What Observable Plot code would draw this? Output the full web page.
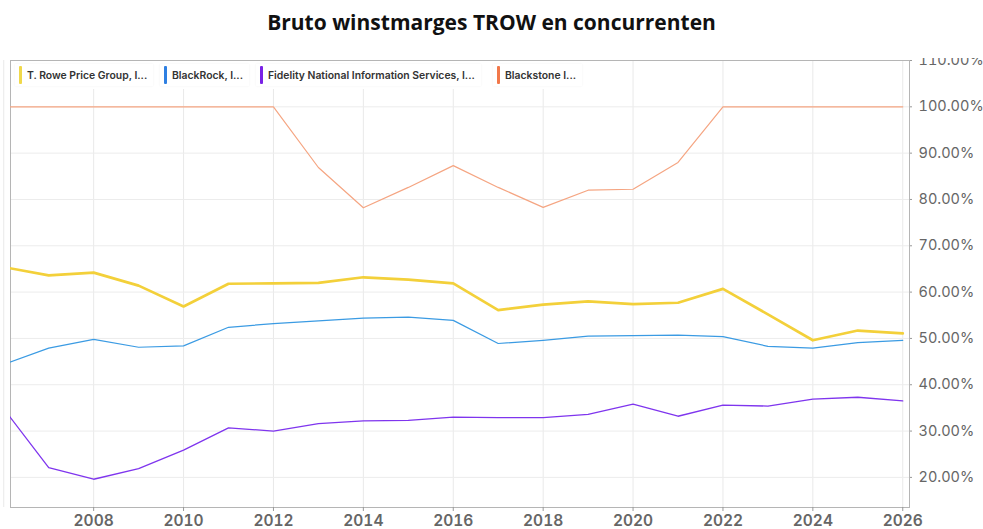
<!DOCTYPE html>
<html><head><meta charset="utf-8">
<script src="https://cdn.jsdelivr.net/npm/d3@7"></script>
<script src="https://cdn.jsdelivr.net/npm/@observablehq/plot@0.6"></script>
<style>
body{margin:0;background:#fff;}
#wrap{position:relative;width:983px;height:529px;overflow:hidden;background:#fff;}
#title{height:58px;text-align:center;font-family:"Open Sans",sans-serif;font-weight:700;font-size:21px;line-height:30px;padding-top:7px;box-sizing:border-box;color:#111;}
#legend{position:absolute;left:12px;top:61px;width:575px;height:28px;background:#fff;}
.item{position:absolute;top:3px;height:22px;display:flex;align-items:center;font-family:Inter,"Noto Sans",sans-serif;font-weight:600;font-size:10.4px;color:#333;white-space:nowrap;background:#fff;box-shadow:0 0 2px rgba(0,0,0,0.06);padding-right:6px;}
.bar{width:3px;height:18px;border-radius:1px;margin:0 5px 0 4px;}
</style></head>
<body><div id="wrap"><div id="title"></div><div id="chart"></div><div id="legend"></div></div>
<script>
const title = "Bruto winstmarges TROW en concurrenten";
const years = [2006,2007,2008,2009,2010,2011,2012,2013,2014,2015,2016,2017,2018,2019,2020,2021,2022,2023,2024,2025,2026];
const seriesNames = ["T. Rowe Price Group, I...","BlackRock, I...","Fidelity National Information Services, I...","Blackstone I..."];
const seriesColors = ["#f3d03a","#3b9be3","#7f35ee","#f5a582"];
const legendColors = ["#f0d84a","#2f80e2","#7a22e6","#f2784a"];
const trow = [65.4,63.6,64.2,61.4,56.9,61.8,61.9,62.0,63.2,62.7,61.9,56.1,57.3,58.0,57.4,57.7,60.7,55.2,49.6,51.7,51.1];
const blk = [44.4,47.9,49.8,48.1,48.4,52.4,53.2,53.8,54.4,54.6,53.9,48.9,49.6,50.5,50.6,50.7,50.4,48.3,47.9,49.1,49.6];
const fis = [34.8,22.1,19.6,21.9,25.9,30.7,30.0,31.6,32.2,32.3,33.0,32.9,32.9,33.6,35.8,33.2,35.6,35.4,36.9,37.3,36.5];
const bx = [100,100,100,100,100,100,100,86.9,78.2,82.6,87.3,82.6,78.3,82.0,82.2,88.0,100,100,100,100,100];
const xTicks = [2006,2008,2010,2012,2014,2016,2018,2020,2022,2024,2026];
const yTicks = [20,30,40,50,60,70,80,90,100,110];

document.getElementById("title").textContent = title;

const allSeries = [bx, fis, blk, trow];
const order = [3,2,1,0];
const widths = [2.7, 1.2, 1.3, 1.2];

const lineMarks = order.map((si, k) => Plot.lineY(years.map((yr,i)=>({year:yr, value: allSeries[k][i]})), {
  x:"year", y:"value", stroke: seriesColors[si], strokeWidth: widths[si], clip:true
}));

const chart = Plot.plot({
  width: 983, height: 471,
  marginTop: 2, marginBottom: 22, marginLeft: 10, marginRight: 74,
  style: {background:"#fff", overflow:"hidden"},
  x: {domain:[2006.15, 2026.15], label:null},
  y: {domain:[13.5, 110], label:null},
  marks: [
    Plot.gridX(xTicks, {stroke:"#e9e9e9", strokeOpacity:1}),
    Plot.gridY(yTicks, {stroke:"#ececec", strokeOpacity:1}),
    Plot.frame({stroke:"#b5b5b5"}),
    Plot.axisY(yTicks, {anchor:"right", tickSize:2, tickPadding:7, tickFormat: d => d.toFixed(2) + "%", fontSize:14.5, fontFamily:"Inter, 'Noto Sans', sans-serif", label:null}),
    Plot.axisX(xTicks.filter(d=>d>=2008), {anchor:"bottom", tickSize:4, tickPadding:3, tickFormat: d => String(d), fontSize:15.5, fontWeight:600, fontFamily:"Inter, 'Noto Sans', sans-serif", label:null}),
    ...lineMarks
  ]
});
document.getElementById("chart").appendChild(chart);
d3.select(chart).selectAll('g[aria-label="y-axis tick label"] text, g[aria-label="x-axis tick label"] text').attr("fill","#666");
d3.select(chart).selectAll('g[aria-label="y-axis tick"], g[aria-label="x-axis tick"]').attr("stroke","#999");

const lefts = [3, 148, 244, 481];
const leg = d3.select("#legend");
seriesNames.forEach((n,i) => {
  const it = leg.append("div").attr("class","item").style("left", lefts[i]+"px");
  it.append("div").attr("class","bar").style("background", legendColors[i]);
  it.append("span").text(n);
});
</script></body></html>
